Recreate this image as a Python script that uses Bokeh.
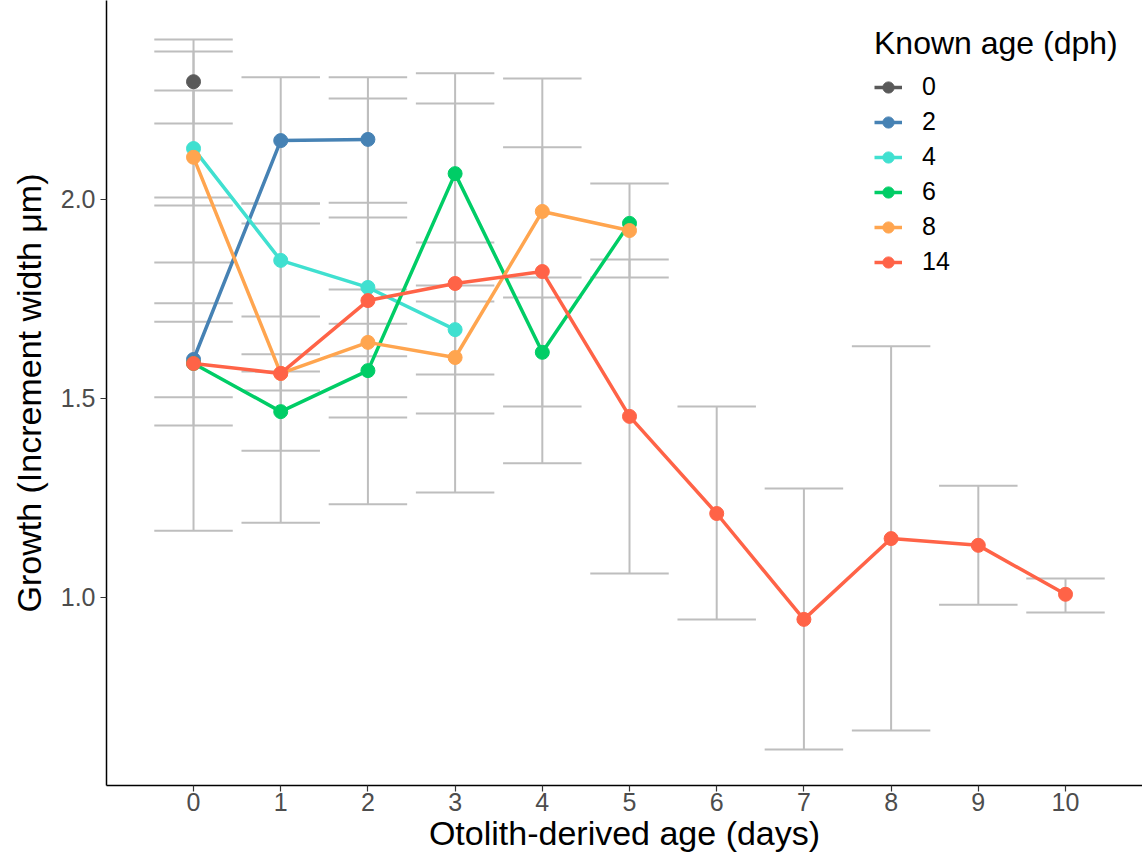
from bokeh.plotting import figure
from bokeh.models import Range1d, FixedTicker, PrintfTickFormatter, Legend, LegendItem, ColumnDataSource
from bokeh.embed import file_html
from bokeh.resources import INLINE

nan = float("nan")

# Known age groups (dph) and their colours
groups = ["0", "2", "4", "6", "8", "14"]
colors = ["#595959", "#4682B4", "#40E0D0", "#00CD66", "#FFA54F", "#FF6347"]

# Otolith-derived age (days) per group
x_0 = [0]
x_2 = [0, 1, 2]
x_4 = [0, 1, 2, 3]
x_6 = [0, 1, 2, 3, 4, 5]
x_8 = [0, 1, 2, 3, 4, 5]
x_14 = [0, 1, 2, 3, 4, 5, 6, 7, 8, 9, 10]

# Mean growth (increment width, um)
mean_0 = [2.296]
mean_2 = [1.598, 2.148, 2.151]
mean_4 = [2.128, 1.847, 1.779, 1.673]
mean_6 = [1.588, 1.467, 1.570, 2.065, 1.616, 1.940]
mean_8 = [2.106, 1.563, 1.641, 1.603, 1.970, 1.922]
mean_14 = [1.588, 1.563, 1.746, 1.789, 1.819, 1.455, 1.211, 0.945, 1.148, 1.131, 1.008]

# Error bar lower / upper limits
lo_0 = [2.191]
hi_0 = [2.402]
lo_2 = [1.503, 1.990, 1.992]
hi_2 = [1.693, 2.307, 2.307]
lo_4 = [1.985, 1.706, 1.606, 1.560]
hi_4 = [2.274, 1.990, 1.955, 1.784]
lo_6 = [1.168, 1.369, 1.452, 1.892, 1.480, nan]
hi_6 = [2.005, 1.568, 1.688, 2.241, 1.754, nan]
lo_8 = [1.842, 1.188, 1.503, 1.462, 1.804, 1.804]
hi_8 = [2.372, 1.940, 1.774, 1.744, 2.131, 2.040]
lo_14 = [1.432, 1.520, 1.234, 1.264, 1.337, 1.060, 0.945, 0.618, 0.666, 0.982, 0.962]
hi_14 = [1.739, 1.611, 2.254, 2.317, 2.304, 1.849, 1.480, 1.274, 1.631, 1.281, 1.048]

x_ticks = [0, 1, 2, 3, 4, 5, 6, 7, 8, 9, 10]
y_ticks = [1.0, 1.5, 2.0]

series = [
    (x_0, mean_0, lo_0, hi_0),
    (x_2, mean_2, lo_2, hi_2),
    (x_4, mean_4, lo_4, hi_4),
    (x_6, mean_6, lo_6, hi_6),
    (x_8, mean_8, lo_8, hi_8),
    (x_14, mean_14, lo_14, hi_14),
]

FONT = "Liberation Sans"
CAP = 0.45  # half width of error bar caps (data units)

p = figure(
    frame_width=1036, frame_height=785,
    x_range=Range1d(-0.998, 10.883), y_range=Range1d(0.5276, 2.5),
    output_backend="svg", toolbar_location=None,
    min_border_left=106, min_border_right=0, min_border_top=0, min_border_bottom=0,
)
p.outline_line_color = None
p.xgrid.visible = False
p.ygrid.visible = False
p.background_fill_color = "white"

# error bars (all grey, drawn first)
for xs, ms, los, his in series:
    src = ColumnDataSource(dict(
        x=xs, lo=los, hi=his,
        xl=[v - CAP for v in xs], xr=[v + CAP for v in xs],
    ))
    p.segment(x0="x", y0="lo", x1="x", y1="hi", source=src, line_color="#BEBEBE", line_width=2)
    p.segment(x0="xl", y0="lo", x1="xr", y1="lo", source=src, line_color="#BEBEBE", line_width=2)
    p.segment(x0="xl", y0="hi", x1="xr", y1="hi", source=src, line_color="#BEBEBE", line_width=2)

items = []
for g, c, (xs, ms, los, his) in zip(groups, colors, series):
    src = ColumnDataSource(dict(x=xs, y=ms))
    lr = p.line("x", "y", source=src, line_color=c, line_width=3.5)
    sr = p.scatter("x", "y", source=src, size=14, fill_color=c, line_color=c, marker="circle")
    items.append(LegendItem(label=g, renderers=[lr, sr]))

legend = Legend(
    items=items, location=(768, 509),
    title="Known age (dph)", title_text_font=FONT, title_text_font_size="32px",
    title_text_font_style="normal", title_text_color="black", title_standoff=10,
    label_text_font=FONT, label_text_font_size="25px", label_text_color="black",
    border_line_color=None, background_fill_alpha=0,
    padding=0, margin=0, spacing=6,
    glyph_width=28, glyph_height=28, label_height=28, label_standoff=20,
)
p.add_layout(legend)

for ax in (p.xaxis[0], p.yaxis[0]):
    ax.axis_line_color = "black"
    ax.axis_line_width = 1.5
    ax.major_tick_line_color = "#333333"
    ax.major_tick_line_width = 1.2
    ax.major_tick_out = 6
    ax.major_tick_in = 0
    ax.minor_tick_line_color = None
    ax.major_label_text_font = FONT
    ax.major_label_text_font_size = "25px"
    ax.major_label_text_color = "#4D4D4D"
    ax.axis_label_text_font = FONT
    ax.axis_label_text_font_size = "34px"
    ax.axis_label_text_font_style = "normal"
    ax.axis_label_text_color = "black"

p.xaxis.ticker = FixedTicker(ticks=x_ticks)
p.yaxis.ticker = FixedTicker(ticks=y_ticks)
p.yaxis.formatter = PrintfTickFormatter(format="%.1f")
p.xaxis.axis_label = "Otolith-derived age (days)"
p.yaxis.axis_label = "Growth (Increment width μm)"
p.xaxis.major_label_standoff = 1
p.xaxis.axis_label_standoff = 0
p.yaxis.major_label_standoff = 5
p.yaxis.axis_label_standoff = 10

open("out.html", "w").write(file_html(p, INLINE))
